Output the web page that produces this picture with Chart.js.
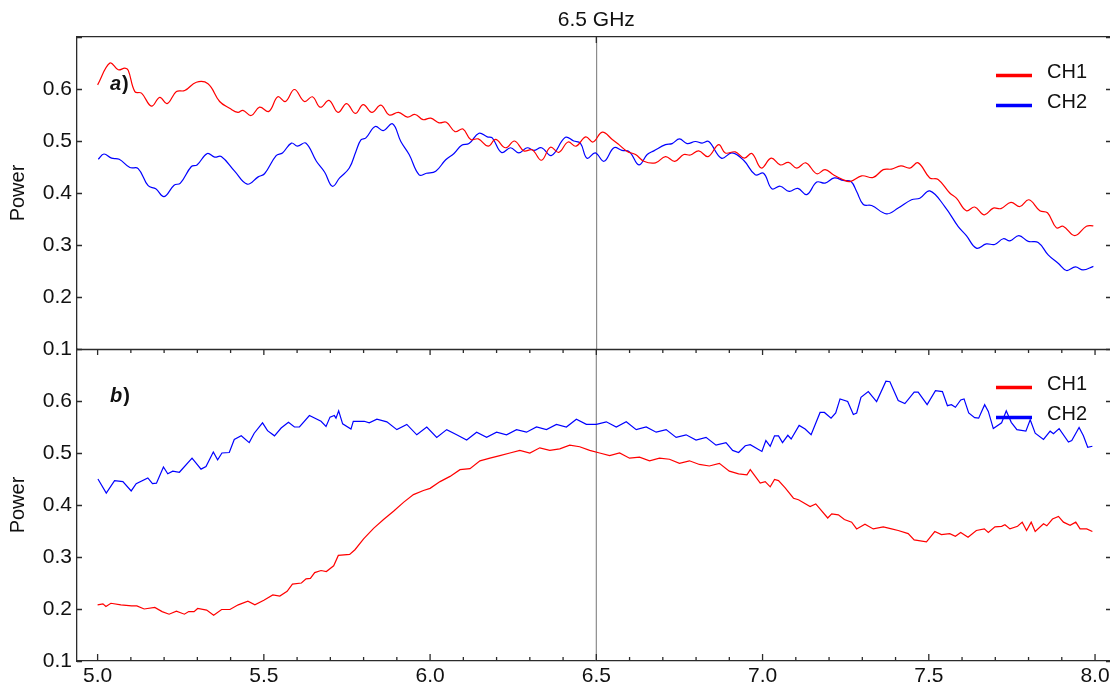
<!DOCTYPE html>
<html>
<head>
<meta charset="utf-8">
<title>CH1 / CH2 power vs frequency</title>
<script src="https://cdn.jsdelivr.net/npm/chart.js@4.4.1/dist/chart.umd.min.js"></script>
<style>
  html, body { margin: 0; padding: 0; background: #ffffff; }
  #wrap { position: relative; width: 1110px; height: 688px; }
  #wrap canvas { position: absolute; left: 0; top: 0; }
</style>
</head>
<body>
<div id="wrap">
  <canvas id="panelA" width="1110" height="688"></canvas>
  <canvas id="panelB" width="1110" height="688"></canvas>
</div>
<script>
// ---- axis values ----
const FREQ_MIN = 4.938;
const FREQ_MAX = 8.045;
const FREQ_TICKS = [5.0, 5.5, 6.0, 6.5, 7.0, 7.5, 8.0];
const FREQ_MINOR_TICKS = [5.1, 5.2, 5.3, 5.4, 5.6, 5.7, 5.8, 5.9, 6.1, 6.2, 6.3, 6.4,
                          6.6, 6.7, 6.8, 6.9, 7.1, 7.2, 7.3, 7.4, 7.6, 7.7, 7.8, 7.9];
const POWER_MIN = 0.1;
const POWER_MAX = 0.7;
const POWER_TICKS = [0.1, 0.2, 0.3, 0.4, 0.5, 0.6, 0.7];
const MARKER_GHZ = 6.5;
const SERIES_NAMES = ['CH1', 'CH2'];

// ---- panel a) ----
const freqA1 = [5.000, 5.037, 5.062, 5.082, 5.092, 5.112, 5.132, 5.162, 5.187, 5.209, 5.237, 5.262, 5.297, 5.332,
  5.367, 5.397, 5.422, 5.437, 5.462, 5.487, 5.515, 5.542, 5.565, 5.592, 5.622, 5.646, 5.670, 5.696, 5.723, 5.749,
  5.775, 5.799, 5.825, 5.852, 5.877, 5.905, 5.932, 5.955, 5.979, 6.002, 6.027, 6.049, 6.075, 6.099, 6.122, 6.145,
  6.175, 6.197, 6.227, 6.254, 6.282, 6.307, 6.335, 6.362, 6.387, 6.415, 6.439, 6.468, 6.490, 6.518, 6.548, 6.568,
  6.593, 6.618, 6.643, 6.678, 6.708, 6.736, 6.763, 6.783, 6.808, 6.836, 6.868, 6.888, 6.918, 6.945, 6.968, 6.996,
  7.026, 7.053, 7.078, 7.103, 7.130, 7.163, 7.188, 7.213, 7.238, 7.263, 7.298, 7.333, 7.363, 7.388, 7.416, 7.443,
  7.468, 7.503, 7.528, 7.563, 7.583, 7.613, 7.638, 7.667, 7.694, 7.717, 7.747, 7.774, 7.801, 7.834, 7.857, 7.884,
  7.904, 7.939, 7.974, 7.995];
const powerA1 = [0.608, 0.650, 0.637, 0.640, 0.636, 0.595, 0.592, 0.567, 0.584, 0.572, 0.595, 0.597, 0.613, 0.610,
  0.576, 0.563, 0.555, 0.559, 0.549, 0.565, 0.557, 0.585, 0.576, 0.599, 0.576, 0.585, 0.565, 0.578, 0.555, 0.572,
  0.553, 0.570, 0.555, 0.569, 0.550, 0.555, 0.546, 0.551, 0.541, 0.544, 0.535, 0.536, 0.518, 0.523, 0.503, 0.504,
  0.490, 0.503, 0.487, 0.500, 0.481, 0.483, 0.463, 0.488, 0.478, 0.498, 0.490, 0.508, 0.498, 0.517, 0.503, 0.493,
  0.480, 0.474, 0.461, 0.458, 0.470, 0.461, 0.474, 0.473, 0.481, 0.470, 0.493, 0.477, 0.479, 0.467, 0.476, 0.448,
  0.467, 0.454, 0.459, 0.448, 0.458, 0.437, 0.445, 0.435, 0.427, 0.422, 0.433, 0.430, 0.445, 0.446, 0.452, 0.448,
  0.458, 0.429, 0.426, 0.400, 0.390, 0.366, 0.373, 0.358, 0.371, 0.370, 0.382, 0.374, 0.387, 0.366, 0.362, 0.333,
  0.336, 0.318, 0.336, 0.337];

const freqA2 = [5.002, 5.019, 5.042, 5.065, 5.097, 5.122, 5.152, 5.175, 5.200, 5.230, 5.249, 5.282, 5.299, 5.330,
  5.352, 5.372, 5.412, 5.450, 5.483, 5.502, 5.537, 5.556, 5.583, 5.601, 5.626, 5.658, 5.683, 5.706, 5.728, 5.757,
  5.777, 5.792, 5.807, 5.835, 5.859, 5.887, 5.912, 5.937, 5.967, 5.989, 6.017, 6.047, 6.072, 6.095, 6.117, 6.147,
  6.172, 6.187, 6.215, 6.242, 6.267, 6.292, 6.312, 6.335, 6.365, 6.407, 6.432, 6.452, 6.472, 6.497, 6.523, 6.553,
  6.577, 6.600, 6.628, 6.653, 6.673, 6.708, 6.728, 6.750, 6.773, 6.798, 6.818, 6.838, 6.876, 6.908, 6.943, 6.978,
  7.003, 7.028, 7.053, 7.080, 7.106, 7.133, 7.163, 7.188, 7.216, 7.243, 7.266, 7.283, 7.303, 7.328, 7.373, 7.408,
  7.448, 7.473, 7.503, 7.548, 7.588, 7.613, 7.643, 7.673, 7.698, 7.724, 7.744, 7.771, 7.799, 7.829, 7.859, 7.889,
  7.914, 7.941, 7.964, 7.995];
const powerA2 = [0.465, 0.475, 0.467, 0.465, 0.449, 0.447, 0.414, 0.408, 0.393, 0.415, 0.419, 0.451, 0.454, 0.476,
  0.469, 0.470, 0.442, 0.417, 0.431, 0.437, 0.472, 0.477, 0.496, 0.490, 0.496, 0.461, 0.440, 0.413, 0.429, 0.448,
  0.480, 0.502, 0.506, 0.528, 0.520, 0.533, 0.499, 0.474, 0.435, 0.438, 0.442, 0.464, 0.476, 0.492, 0.495, 0.515,
  0.508, 0.506, 0.478, 0.487, 0.477, 0.487, 0.482, 0.487, 0.472, 0.507, 0.500, 0.496, 0.467, 0.477, 0.461, 0.487,
  0.482, 0.479, 0.454, 0.474, 0.481, 0.493, 0.495, 0.504, 0.495, 0.499, 0.496, 0.499, 0.467, 0.477, 0.463, 0.435,
  0.438, 0.408, 0.413, 0.403, 0.409, 0.397, 0.421, 0.419, 0.429, 0.424, 0.422, 0.403, 0.378, 0.376, 0.360, 0.371,
  0.387, 0.390, 0.404, 0.374, 0.336, 0.318, 0.294, 0.302, 0.301, 0.312, 0.308, 0.318, 0.307, 0.305, 0.281, 0.265,
  0.251, 0.258, 0.252, 0.259];

// ---- panel b) ----
const freqB1 = [5.000, 5.016, 5.025, 5.040, 5.070, 5.102, 5.118, 5.140, 5.172, 5.194, 5.215, 5.237, 5.261, 5.274,
  5.290, 5.301, 5.328, 5.349, 5.373, 5.398, 5.423, 5.452, 5.473, 5.500, 5.527, 5.548, 5.570, 5.586, 5.613, 5.627,
  5.640, 5.653, 5.672, 5.688, 5.710, 5.724, 5.758, 5.774, 5.800, 5.830, 5.860, 5.890, 5.920, 5.950, 5.980, 6.000,
  6.030, 6.060, 6.090, 6.120, 6.150, 6.180, 6.210, 6.240, 6.270, 6.300, 6.330, 6.360, 6.390, 6.420, 6.450, 6.480,
  6.510, 6.540, 6.570, 6.600, 6.630, 6.660, 6.690, 6.720, 6.750, 6.780, 6.810, 6.840, 6.870, 6.900, 6.928, 6.953,
  6.963, 6.993, 7.008, 7.023, 7.036, 7.048, 7.068, 7.093, 7.108, 7.143, 7.160, 7.196, 7.208, 7.228, 7.246, 7.268,
  7.283, 7.308, 7.333, 7.363, 7.388, 7.408, 7.438, 7.456, 7.493, 7.518, 7.538, 7.563, 7.580, 7.596, 7.618, 7.643,
  7.667, 7.679, 7.699, 7.719, 7.729, 7.744, 7.767, 7.781, 7.794, 7.808, 7.820, 7.845, 7.855, 7.872, 7.890, 7.905,
  7.925, 7.942, 7.955, 7.975, 7.992];
const powerB1 = [0.208, 0.210, 0.205, 0.211, 0.208, 0.206, 0.206, 0.200, 0.203, 0.195, 0.190, 0.196, 0.190, 0.195,
  0.195, 0.201, 0.198, 0.188, 0.199, 0.199, 0.208, 0.215, 0.208, 0.217, 0.227, 0.225, 0.234, 0.248, 0.250, 0.258,
  0.259, 0.270, 0.274, 0.272, 0.283, 0.303, 0.305, 0.314, 0.335, 0.355, 0.372, 0.388, 0.405, 0.420, 0.428, 0.432,
  0.445, 0.455, 0.468, 0.470, 0.485, 0.490, 0.495, 0.500, 0.505, 0.500, 0.510, 0.505, 0.508, 0.515, 0.512, 0.505,
  0.500, 0.495, 0.500, 0.490, 0.492, 0.485, 0.490, 0.488, 0.480, 0.485, 0.478, 0.475, 0.480, 0.465, 0.460, 0.458,
  0.468, 0.442, 0.445, 0.435, 0.449, 0.447, 0.433, 0.413, 0.410, 0.397, 0.402, 0.375, 0.383, 0.381, 0.372, 0.367,
  0.354, 0.363, 0.354, 0.358, 0.354, 0.351, 0.345, 0.333, 0.329, 0.349, 0.343, 0.345, 0.340, 0.347, 0.338, 0.351,
  0.354, 0.347, 0.358, 0.359, 0.362, 0.354, 0.359, 0.367, 0.351, 0.367, 0.349, 0.364, 0.360, 0.373, 0.378, 0.367,
  0.361, 0.367, 0.354, 0.354, 0.349];

const freqB2 = [5.001, 5.026, 5.051, 5.076, 5.101, 5.116, 5.151, 5.165, 5.177, 5.198, 5.211, 5.226, 5.246, 5.284,
  5.311, 5.326, 5.348, 5.361, 5.374, 5.396, 5.411, 5.432, 5.456, 5.471, 5.496, 5.511, 5.532, 5.552, 5.574, 5.592,
  5.607, 5.637, 5.672, 5.687, 5.699, 5.712, 5.717, 5.725, 5.737, 5.762, 5.769, 5.802, 5.817, 5.840, 5.870, 5.900,
  5.930, 5.960, 5.990, 6.020, 6.050, 6.080, 6.110, 6.140, 6.170, 6.200, 6.230, 6.260, 6.290, 6.320, 6.350, 6.380,
  6.410, 6.440, 6.470, 6.500, 6.530, 6.560, 6.590, 6.620, 6.650, 6.680, 6.710, 6.740, 6.770, 6.800, 6.830, 6.860,
  6.890, 6.910, 6.928, 6.948, 6.963, 6.998, 7.010, 7.023, 7.036, 7.048, 7.060, 7.076, 7.086, 7.110, 7.128, 7.146,
  7.173, 7.186, 7.206, 7.220, 7.233, 7.256, 7.273, 7.283, 7.296, 7.318, 7.343, 7.371, 7.383, 7.408, 7.428, 7.456,
  7.468, 7.495, 7.520, 7.541, 7.556, 7.568, 7.580, 7.596, 7.606, 7.620, 7.638, 7.650, 7.668, 7.679, 7.694, 7.719,
  7.733, 7.748, 7.765, 7.792, 7.805, 7.820, 7.845, 7.865, 7.875, 7.892, 7.920, 7.930, 7.952, 7.965, 7.978, 7.992];
const powerB2 = [0.450, 0.423, 0.447, 0.445, 0.427, 0.441, 0.452, 0.441, 0.442, 0.473, 0.460, 0.465, 0.463, 0.490,
  0.469, 0.474, 0.502, 0.487, 0.500, 0.501, 0.526, 0.533, 0.520, 0.538, 0.558, 0.543, 0.533, 0.548, 0.559, 0.550,
  0.550, 0.572, 0.561, 0.551, 0.569, 0.572, 0.567, 0.581, 0.556, 0.546, 0.561, 0.561, 0.558, 0.565, 0.560, 0.545,
  0.555, 0.535, 0.550, 0.530, 0.545, 0.535, 0.525, 0.540, 0.530, 0.540, 0.535, 0.545, 0.540, 0.550, 0.545, 0.555,
  0.550, 0.565, 0.555, 0.555, 0.560, 0.550, 0.560, 0.545, 0.550, 0.540, 0.545, 0.530, 0.535, 0.525, 0.530, 0.515,
  0.520, 0.505, 0.501, 0.514, 0.516, 0.503, 0.524, 0.513, 0.533, 0.533, 0.520, 0.534, 0.527, 0.553, 0.546, 0.535,
  0.578, 0.578, 0.567, 0.577, 0.604, 0.599, 0.574, 0.577, 0.607, 0.618, 0.599, 0.638, 0.637, 0.601, 0.595, 0.617,
  0.617, 0.593, 0.620, 0.618, 0.591, 0.593, 0.588, 0.602, 0.604, 0.577, 0.568, 0.567, 0.593, 0.580, 0.547, 0.558,
  0.581, 0.559, 0.545, 0.542, 0.564, 0.538, 0.526, 0.542, 0.537, 0.547, 0.521, 0.524, 0.549, 0.533, 0.511, 0.513];

// ---- look ----
const CH_COLORS = ['rgb(255,0,0)', 'rgb(0,0,255)'];
const AXIS_COLOR = '#2b2b2b';
const TEXT_COLOR = '#111111';
const MARKER_COLOR = '#8c8c8c';
const FONT = "'Liberation Sans', Arial, Helvetica, sans-serif";
const FRAME = { left: 77, topA: 37, split: 349, bottomB: 661, right: 1110, height: 688 };

Chart.defaults.font.family = FONT;
Chart.defaults.color = TEXT_COLOR;

function toPoints(xs, ys) {
  return xs.map((x, i) => ({ x: x, y: ys[i] }));
}

function makeDatasets(freqs, powers, tension) {
  return SERIES_NAMES.map((name, i) => ({
    label: name,
    data: toPoints(freqs[i], powers[i]),
    borderColor: CH_COLORS[i],
    backgroundColor: CH_COLORS[i],
    borderWidth: 1.2,
    pointRadius: 0,
    tension: tension,
    fill: false
  }));
}

function zeroPadding(scale) {
  scale.paddingLeft = 0; scale.paddingRight = 0;
  scale.paddingTop = 0; scale.paddingBottom = 0;
}

function powerAxis() {
  return {
    type: 'linear',
    position: 'left',
    min: POWER_MIN,
    max: POWER_MAX,
    afterBuildTicks: s => { s.ticks = POWER_TICKS.map(v => ({ value: v })); },
    afterFit: s => { s.width = FRAME.left; zeroPadding(s); },
    ticks: {
      callback: v => (v > 0.65 ? '' : v.toFixed(1)),
      font: { size: 21 },
      color: TEXT_COLOR,
      padding: 5
    },
    grid: { drawOnChartArea: false, drawTicks: false },
    border: { display: true, color: AXIS_COLOR, width: 1.3 },
    title: { display: true, text: 'Power', font: { size: 20 }, color: TEXT_COLOR, padding: { top: 6, bottom: 0 } }
  };
}

// Inward tick marks, panel letter and legend drawn on top of the library axes.
const panelDecor = {
  id: 'panelDecor',
  beforeDatasetsDraw(chart, args, opts) {
    const ctx = chart.ctx;
    const a = chart.chartArea;
    const xs = chart.scales.x;
    if (opts.markerLine) {
      const mx = xs.getPixelForValue(MARKER_GHZ);
      ctx.save();
      ctx.strokeStyle = MARKER_COLOR;
      ctx.lineWidth = 1.2;
      ctx.beginPath();
      ctx.moveTo(mx, a.top);
      ctx.lineTo(mx, a.bottom);
      ctx.stroke();
      ctx.restore();
    }
  },
  afterDraw(chart, args, opts) {
    const ctx = chart.ctx;
    const a = chart.chartArea;
    const xs = chart.scales.x;
    const ys = chart.scales.y;
    ctx.save();
    ctx.strokeStyle = AXIS_COLOR;
    ctx.lineWidth = 1.3;
    ctx.beginPath();
    // power ticks, left and right sides, pointing inward
    POWER_TICKS.forEach(v => {
      const py = Math.round(ys.getPixelForValue(v)) + 0.5;
      ctx.moveTo(a.left, py); ctx.lineTo(a.left + 5, py);
      ctx.moveTo(a.right, py); ctx.lineTo(a.right - 4, py);
    });
    if (opts.frequencyTicks) {
      FREQ_TICKS.forEach(v => {
        const px = xs.getPixelForValue(v);
        ctx.moveTo(px, a.bottom); ctx.lineTo(px, a.bottom - 7);
        ctx.moveTo(px, a.top); ctx.lineTo(px, a.top + 6);
      });
      FREQ_MINOR_TICKS.forEach(v => {
        const px = xs.getPixelForValue(v);
        ctx.moveTo(px, a.bottom); ctx.lineTo(px, a.bottom - 4);
        ctx.moveTo(px, a.top); ctx.lineTo(px, a.top + 4);
      });
      // shared border between the two panels
      ctx.moveTo(a.left, a.top + 0.5); ctx.lineTo(a.right, a.top + 0.5);
    }
    if (opts.markerTick) {
      const mx = xs.getPixelForValue(MARKER_GHZ);
      ctx.moveTo(mx, a.top); ctx.lineTo(mx, a.top + 6);
    }
    ctx.stroke();

    // panel letter
    ctx.fillStyle = TEXT_COLOR;
    ctx.textBaseline = 'alphabetic';
    ctx.textAlign = 'left';
    ctx.font = 'italic bold 20px ' + FONT;
    const lx = a.left + 33, ly = a.top + 52.5;
    ctx.fillText(opts.letter, lx, ly);
    const w = ctx.measureText(opts.letter).width;
    ctx.font = 'bold 20px ' + FONT;
    ctx.fillText(')', lx + w + 1, ly);

    // legend
    ctx.font = '20px ' + FONT;
    ctx.textBaseline = 'middle';
    chart.data.datasets.forEach((ds, i) => {
      const y = a.top + 38.5 + i * 30;
      ctx.strokeStyle = ds.borderColor;
      ctx.lineWidth = 3.5;
      ctx.beginPath();
      ctx.moveTo(a.right - 114, y);
      ctx.lineTo(a.right - 78, y);
      ctx.stroke();
      ctx.fillStyle = TEXT_COLOR;
      ctx.fillText(ds.label, a.right - 63, y - 3);
    });
    ctx.restore();
  }
};

const common = {
  type: 'line',
  plugins: [panelDecor]
};

// panel a): upper plot with the 6.5 GHz marker axis on top
new Chart(document.getElementById('panelA'), {
  ...common,
  data: { datasets: makeDatasets([freqA1, freqA2], [powerA1, powerA2], 0.4) },
  options: {
    responsive: false,
    animation: false,
    devicePixelRatio: 1,
    layout: { padding: { left: 0, right: 0, top: 0, bottom: FRAME.height - FRAME.split } },
    scales: {
      x: {
        type: 'linear',
        position: 'top',
        min: FREQ_MIN,
        max: FREQ_MAX,
        afterBuildTicks: s => { s.ticks = [{ value: MARKER_GHZ }]; },
        afterFit: s => { s.height = FRAME.topA; zeroPadding(s); },
        ticks: {
          callback: v => v.toFixed(1) + ' GHz',
          font: { size: 21 },
          color: TEXT_COLOR,
          padding: 4,
          maxRotation: 0,
          autoSkip: false
        },
        grid: { drawOnChartArea: true, drawTicks: false, color: MARKER_COLOR, lineWidth: 1.2 },
        border: { display: true, color: AXIS_COLOR, width: 1.3 }
      },
      y: powerAxis()
    },
    plugins: {
      legend: { display: false },
      tooltip: { enabled: false },
      panelDecor: { letter: 'a', markerTick: true, markerLine: false, frequencyTicks: false }
    }
  }
});

// panel b): lower plot with the frequency axis
new Chart(document.getElementById('panelB'), {
  ...common,
  data: { datasets: makeDatasets([freqB1, freqB2], [powerB1, powerB2], 0) },
  options: {
    responsive: false,
    animation: false,
    devicePixelRatio: 1,
    layout: { padding: { left: 0, right: 0, top: FRAME.split, bottom: 0 } },
    scales: {
      x: {
        type: 'linear',
        position: 'bottom',
        min: FREQ_MIN,
        max: FREQ_MAX,
        afterBuildTicks: s => { s.ticks = FREQ_TICKS.map(v => ({ value: v })); },
        afterFit: s => { s.height = FRAME.height - FRAME.bottomB; zeroPadding(s); },
        ticks: {
          callback: v => v.toFixed(1),
          font: { size: 21 },
          color: TEXT_COLOR,
          padding: 3,
          maxRotation: 0,
          autoSkip: false
        },
        grid: { drawOnChartArea: false, drawTicks: false },
        border: { display: true, color: AXIS_COLOR, width: 1.3 }
      },
      y: powerAxis()
    },
    plugins: {
      legend: { display: false },
      tooltip: { enabled: false },
      panelDecor: { letter: 'b', markerTick: false, markerLine: true, frequencyTicks: true }
    }
  }
});
</script>
</body>
</html>
